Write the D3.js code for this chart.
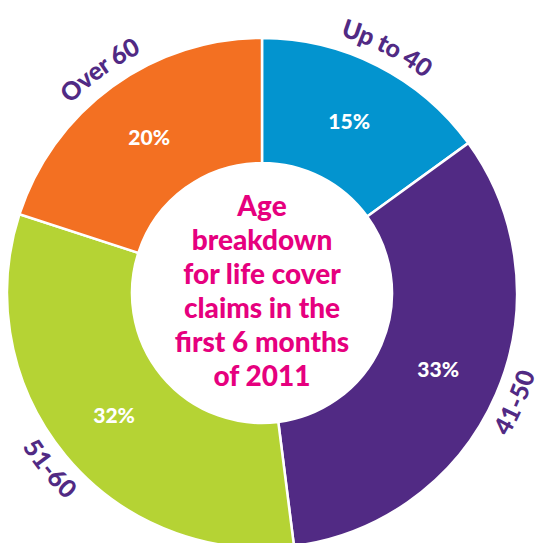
<!DOCTYPE html>
<html lang="en">
<head>
    <meta charset="UTF-8">
    <title>Age breakdown</title>
    <script src="https://cdn.jsdelivr.net/npm/d3@7"></script>
    <style>
        body { margin: 0; background: #fff; }
        text { font-family: Lato, "Open Sans", sans-serif; font-weight: 900; }
        .pct { fill: #fff; font-size: 21px; }
        .cat { fill: #512a84; font-size: 25px; }
        .title { fill: #e6007e; font-size: 28px; }
    </style>
</head>
<body>
<script>
    const width = 539;
    const height = 543;

    const categories = ["Up to 40", "41-50", "51-60", "Over 60"];
    const values = [15, 33, 32, 20];
    const colors = ["#0394cf", "#512a84", "#b5d334", "#f37022"];
    const titleLines = ["Age", "breakdown", "for life cover", "claims in the", "first 6 months", "of 2011"];

    const cx = 262, cy = 293;
    const outerR = 255, innerR = 130;

    const svg = d3.select("body").append("svg")
            .attr("width", width).attr("height", height);

    const g = svg.append("g").attr("transform", `translate(${cx},${cy})`);

    const pie = d3.pie().sort(null).value(d => d);
    const arcs = pie(values);

    const arc = d3.arc().innerRadius(innerR).outerRadius(outerR);
    const labelArc = d3.arc().innerRadius(192).outerRadius(192);

    g.selectAll("path.slice")
        .data(arcs)
        .enter()
        .append("path")
        .attr("class", "slice")
        .attr("d", arc)
        .attr("fill", (d, i) => colors[i])
        .attr("stroke", "#fff")
        .attr("stroke-width", 2.5);

    g.selectAll("text.pct")
        .data(arcs)
        .enter()
        .append("text")
        .attr("class", "pct")
        .attr("transform", d => `translate(${labelArc.centroid(d)})`)
        .attr("text-anchor", "middle")
        .attr("dy", "0.36em")
        .text(d => d.data + "%");

    // curved category labels around the ring
    const labelR = 278;
    const span = 50 * Math.PI / 180;
    function pt(a, r) {
        return [r * Math.sin(a), -r * Math.cos(a)];
    }
    function labelPath(d) {
        const mid = (d.startAngle + d.endAngle) / 2;
        const bottom = Math.cos(mid) < 0;
        const r = bottom ? labelR - 2 : labelR;
        if (!bottom) {
            const p0 = pt(mid - span, r), p1 = pt(mid + span, r);
            return `M${p0}A${r},${r} 0 0 1 ${p1}`;
        } else {
            const p0 = pt(mid + span, r), p1 = pt(mid - span, r);
            return `M${p0}A${r},${r} 0 0 0 ${p1}`;
        }
    }

    const defs = svg.append("defs");
    defs.selectAll("path")
        .data(arcs)
        .enter()
        .append("path")
        .attr("id", (d, i) => "lp" + i)
        .attr("d", labelPath);

    g.selectAll("text.cat")
        .data(arcs)
        .enter()
        .append("text")
        .attr("class", "cat")
        .attr("dy", "0.36em")
        .append("textPath")
        .attr("href", (d, i) => "#lp" + i)
        .attr("startOffset", "50%")
        .attr("text-anchor", "middle")
        .text((d, i) => categories[i]);

    // centre title
    const lineH = 34;
    g.append("text")
        .attr("class", "title")
        .attr("text-anchor", "middle")
        .selectAll("tspan")
        .data(titleLines)
        .enter()
        .append("tspan")
        .attr("x", 0)
        .attr("y", (d, i) => (i - (titleLines.length - 1) / 2) * lineH - 2)
        .attr("dy", "0.36em")
        .text(d => d);
</script>
</body>
</html>
